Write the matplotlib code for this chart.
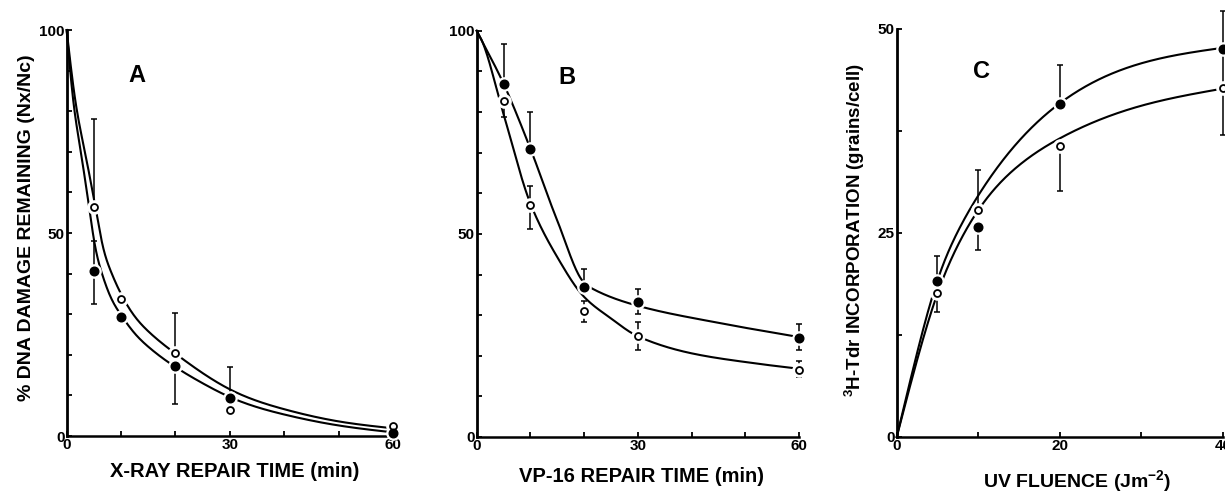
import numpy as np
import matplotlib
matplotlib.use("Agg")
import matplotlib.pyplot as plt

plt.rcParams['font.family'] = ['Liberation Sans', 'DejaVu Sans']
plt.rcParams['font.weight'] = 'bold'
plt.rcParams['axes.labelweight'] = 'bold'
plt.rcParams['mathtext.fontset'] = 'custom'
plt.rcParams['mathtext.rm'] = 'Liberation Sans'
plt.rcParams['mathtext.bf'] = 'Liberation Sans:bold'
plt.rcParams['mathtext.default'] = 'bf'

# --- panel A: X-ray repair (% DNA damage remaining) ---
time_a = np.array([5, 10, 20, 30, 60])
filled_a = np.array([40.6, 29.4, 17.2, 9.4, 0.8])
filled_a_lo = np.array([8.0, 0, 9.2, 0, 0])
filled_a_hi = np.array([7.5, 0, 0, 7.7, 0])
open_a = np.array([56.3, 33.7, 20.4, 6.5, 2.4])
open_a_lo = np.array([0, 0, 0, 0, 0])
open_a_hi = np.array([21.7, 0, 10.0, 0, 0])
# hand-drawn fit lines
curve_a_t_filled = np.array([0, 1.2, 2.3, 3.9, 5.2, 6.5, 8, 10, 12.5, 15, 20, 25, 30, 40, 50, 60])
curve_a_filled = np.array([100, 82.8, 72.5, 58.5, 47, 40, 34.5, 29.8, 25.3, 22, 17, 13, 9.6, 5.3, 2.6, 0.9])
curve_a_t_open = np.array([0, 1.5, 3.2, 5.2, 6.7, 8, 10, 12.5, 15, 20, 25, 30, 40, 50, 60])
curve_a_open = np.array([100, 83.5, 71, 57, 46.5, 41, 35, 29.5, 25.8, 20.3, 15.5, 11.5, 6.6, 3.6, 1.9])

# --- panel B: VP-16 repair ---
time_b = np.array([5, 10, 20, 30, 60])
filled_b = np.array([87.0, 70.9, 36.9, 33.2, 24.3])
filled_b_lo = np.array([0, 0, 0, 2.9, 3.0])
filled_b_hi = np.array([9.7, 9.0, 4.5, 3.3, 3.6])
open_b = np.array([82.8, 57.0, 30.9, 24.8, 16.6])
open_b_lo = np.array([4.1, 5.8, 2.6, 3.5, 1.8])
open_b_hi = np.array([0, 4.9, 2.7, 3.5, 2.0])
curve_b_t_filled = np.array([0, 5, 10, 15, 20, 22, 30, 45, 60])
curve_b_filled = np.array([100, 87, 71, 53.3, 38.0, 36.2, 32.3, 28.1, 24.6])
curve_b_t_open = np.array([0, 1, 5, 10, 15, 20, 25, 30, 40, 52, 60])
curve_b_open = np.array([100, 97.5, 79.5, 57.5, 44.3, 34.5, 29.2, 24.8, 20.6, 18.1, 16.8])

# --- panel C: UV fluence vs 3H-TdR incorporation ---
fluence_c = np.array([5, 10, 20, 40])
filled_c = np.array([19.1, 25.7, 40.8, 47.5])
filled_c_lo = np.array([0, 2.8, 0, 4.1])
filled_c_hi = np.array([3.1, 0, 4.8, 4.7])
open_c = np.array([17.7, 27.8, 35.6, 42.8])
open_c_lo = np.array([2.4, 0, 5.5, 5.8])
open_c_hi = np.array([0, 4.9, 0, 0])
curve_c_x = np.array([0, 2, 5, 7.5, 10, 15, 20, 30, 40])
curve_c_filled = np.array([0, 8.3, 19.2, 25.2, 29.6, 36.3, 40.9, 45.8, 47.7])
curve_c_open = np.array([0, 7.6, 17.6, 23.5, 27.8, 33.3, 36.6, 40.6, 42.7])


def pchip(x, y, n=400):
    # monotone cubic (Fritsch-Carlson), no overshoot at sharp bends
    x = np.asarray(x, float)
    y = np.asarray(y, float)
    xx = np.linspace(x[0], x[-1], n)
    h = np.diff(x)
    d = np.diff(y) / h
    m = np.zeros_like(y)
    m[0], m[-1] = d[0], d[-1]
    for k in range(1, len(x) - 1):
        if d[k - 1] * d[k] > 0:
            w1 = 2 * h[k] + h[k - 1]
            w2 = h[k] + 2 * h[k - 1]
            m[k] = (w1 + w2) / (w1 / d[k - 1] + w2 / d[k])
    k = np.clip(np.searchsorted(x, xx) - 1, 0, len(h) - 1)
    s = (xx - x[k]) / h[k]
    h00 = 2 * s**3 - 3 * s**2 + 1
    h10 = s**3 - 2 * s**2 + s
    h01 = -2 * s**3 + 3 * s**2
    h11 = s**3 - s**2
    return xx, h00 * y[k] + h10 * h[k] * m[k] + h01 * y[k + 1] + h11 * h[k] * m[k + 1]


def natural_spline(x, y, n=400):
    # C2 cubic spline, smoother look for the gently curving lines
    x = np.asarray(x, float)
    y = np.asarray(y, float)
    h = np.diff(x)
    nk = len(x)
    A = np.zeros((nk, nk))
    r = np.zeros(nk)
    A[0, 0] = A[-1, -1] = 1
    for i in range(1, nk - 1):
        A[i, i - 1] = h[i - 1]
        A[i, i] = 2 * (h[i - 1] + h[i])
        A[i, i + 1] = h[i]
        r[i] = 6 * ((y[i + 1] - y[i]) / h[i] - (y[i] - y[i - 1]) / h[i - 1])
    M = np.linalg.solve(A, r)
    xx = np.linspace(x[0], x[-1], n)
    k = np.clip(np.searchsorted(x, xx) - 1, 0, nk - 2)
    a = x[k + 1] - xx
    b = xx - x[k]
    hk = h[k]
    yy = (M[k] * a**3 + M[k + 1] * b**3) / (6 * hk) \
        + (y[k] / hk - M[k] * hk / 6) * a + (y[k + 1] / hk - M[k + 1] * hk / 6) * b
    return xx, yy


def draw_series(ax, x, y, lo, hi, line, filled):
    ax.plot(*line, color='black', lw=1.5, zorder=2, clip_on=False)
    ax.errorbar(x, y, yerr=[lo, hi], fmt='none', ecolor='black',
                elinewidth=1.1, capsize=2, capthick=1.1, zorder=3, clip_on=False)
    # white halo gives the little gaps where lines meet a point
    ax.plot(x, y, 'o', ms=9.5, color='white', mec='white', zorder=4, clip_on=False)
    if filled:
        ax.plot(x, y, 'o', ms=6.2, color='black', mec='black', zorder=5, clip_on=False)
    else:
        ax.plot(x, y, 'o', ms=5, mfc='white', mec='black', mew=1.3,
                zorder=5, clip_on=False)


def style_axes(ax, xmax, ymax, xticks, xlabels, yticks, ylabels):
    ax.set_xlim(0, xmax)
    ax.set_ylim(0, ymax)
    for side in ['top', 'right']:
        ax.spines[side].set_visible(False)
    ax.spines['left'].set_linewidth(2.0)
    ax.spines['bottom'].set_linewidth(1.8)
    ax.set_xticks(xticks)
    ax.set_xticklabels(xlabels)
    ax.set_yticks(yticks)
    ax.set_yticklabels(ylabels)
    ax.tick_params(direction='in', length=3.5, width=1.3, pad=1.5, labelsize=11)


fig = plt.figure(figsize=(12.25, 4.93), dpi=100)

# A
ax_a = fig.add_axes([0.0544, 0.1156, 0.2664, 0.8235])
draw_series(ax_a, time_a, open_a, open_a_lo, open_a_hi,
            natural_spline(curve_a_t_open, curve_a_open), False)
draw_series(ax_a, time_a, filled_a, filled_a_lo, filled_a_hi,
            natural_spline(curve_a_t_filled, curve_a_filled), True)
style_axes(ax_a, 60, 100, np.arange(0, 61, 10), ['0', '', '', '30', '', '', '60'],
           np.arange(0, 101, 10), ['0', '', '', '', '', '50', '', '', '', '', '100'])
ax_a.set_xlabel('X-RAY REPAIR TIME (min)', fontsize=14.5)
ax_a.xaxis.set_label_coords(0.516, -0.064)
ax_a.set_ylabel('% DNA DAMAGE REMAINING (Nx/Nc)', fontsize=14)
ax_a.yaxis.set_label_coords(-0.097, 0.513)
ax_a.text(0.215, 0.889, 'A', transform=ax_a.transAxes, fontsize=17,
          ha='center', va='center')

# B
ax_b = fig.add_axes([0.3891, 0.1136, 0.2631, 0.824])
draw_series(ax_b, time_b, open_b, open_b_lo, open_b_hi,
            pchip(curve_b_t_open, curve_b_open), False)
draw_series(ax_b, time_b, filled_b, filled_b_lo, filled_b_hi,
            pchip(curve_b_t_filled, curve_b_filled), True)
style_axes(ax_b, 60, 100, np.arange(0, 61, 10), ['0', '', '', '30', '', '', '60'],
           np.arange(0, 101, 10), ['0', '', '', '', '', '50', '', '', '', '', '100'])
ax_b.set_xlabel('VP-16 REPAIR TIME (min)', fontsize=14.5)
ax_b.xaxis.set_label_coords(0.51, -0.074)
ax_b.text(0.28, 0.884, 'B', transform=ax_b.transAxes, fontsize=17,
          ha='center', va='center')

# C
ax_c = fig.add_axes([0.732, 0.1136, 0.2664, 0.8276])
draw_series(ax_c, fluence_c, open_c, open_c_lo, open_c_hi,
            natural_spline(curve_c_x, curve_c_open), False)
draw_series(ax_c, fluence_c, filled_c, filled_c_lo, filled_c_hi,
            natural_spline(curve_c_x, curve_c_filled), True)
style_axes(ax_c, 40, 50, np.arange(0, 41, 10), ['0', '', '20', '', '40'],
           np.arange(0, 50.1, 12.5), ['0', '', '25', '', '50'])
ax_c.set_xlabel('UV FLUENCE (Jm$^{-2}$)', fontsize=14)
ax_c.xaxis.set_label_coords(0.553, -0.076)
ax_c.set_ylabel('$^{3}$H-Tdr INCORPORATION (grains/cell)', fontsize=13.5)
ax_c.yaxis.set_label_coords(-0.091, 0.507)
ax_c.text(0.261, 0.895, 'C', transform=ax_c.transAxes, fontsize=17,
          ha='center', va='center')

fig.savefig('out.png', dpi=100)
